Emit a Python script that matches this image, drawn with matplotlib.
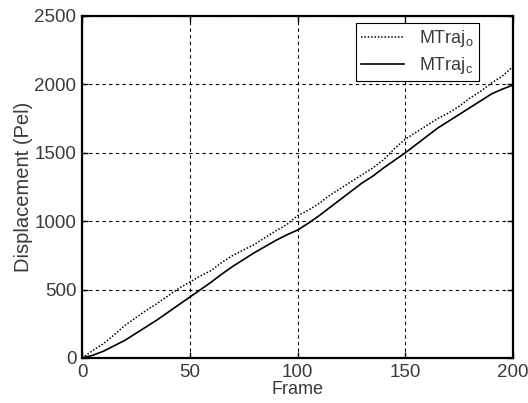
import matplotlib
matplotlib.use("Agg")
import matplotlib.pyplot as plt

plt.rcParams['font.family'] = ['Liberation Sans', 'DejaVu Sans']
plt.rcParams['mathtext.fontset'] = 'custom'
plt.rcParams['mathtext.rm'] = 'Liberation Sans'

frames = list(range(0, 201, 5))
mtraj_o = [0, 55, 105, 170, 240, 295, 350, 400, 455, 510, 555, 600, 640, 700, 750,
           790, 830, 880, 930, 975, 1040, 1080, 1130, 1190, 1240, 1290, 1340, 1390,
           1450, 1530, 1600, 1650, 1700, 1750, 1790, 1840, 1900, 1950, 2010, 2060, 2130]
mtraj_c = [0, 20, 50, 90, 130, 180, 230, 280, 335, 390, 445, 500, 555, 615, 670,
           720, 770, 815, 860, 900, 935, 985, 1040, 1100, 1160, 1220, 1280, 1330,
           1390, 1445, 1500, 1560, 1620, 1680, 1730, 1780, 1830, 1880, 1930, 1965, 1995]
xticks = [0, 50, 100, 150, 200]
yticks = [0, 500, 1000, 1500, 2000, 2500]

txt = '#3a3a3a'
fig = plt.figure(figsize=(5.28, 4.03), dpi=100)
ax = fig.add_axes([82/528, 1-358/403, (513-82)/528, (358-16)/403])

ax.plot(frames, mtraj_o, color='black', linestyle=(0, (1, 1.2)), linewidth=1.1,
        label=r'MTraj$_\mathrm{o}$')
ax.plot(frames, mtraj_c, color='black', linestyle='-', linewidth=1.2,
        label=r'MTraj$_\mathrm{c}$')

ax.set_xlim(0, 200)
ax.set_ylim(0, 2500)
ax.set_xticks(xticks)
ax.set_yticks(yticks)
ax.grid(True, color='black', linestyle=(0, (3, 3)), linewidth=0.8)
ax.tick_params(direction='in', top=True, right=True, labelsize=13.5, length=4,
               width=1, colors='black', labelcolor=txt, pad=4)
for s in ax.spines.values():
    s.set_linewidth(1.6)
ax.set_xlabel('Frame', fontsize=13, labelpad=0, color=txt)
ax.set_ylabel('Displacement (Pel)', fontsize=14.5, labelpad=1, color=txt)

leg = ax.legend(loc='upper right', fontsize=13,
                frameon=True, fancybox=False, edgecolor='black', framealpha=1,
                handlelength=2.4, borderpad=0.3, labelspacing=0.3, handletextpad=0.8,
                borderaxespad=0,
                bbox_to_anchor=(479/528, 1-23/403), bbox_transform=fig.transFigure)
leg.get_frame().set_linewidth(0.8)
for t in leg.get_texts():
    t.set_color(txt)

fig.savefig('out.png', dpi=100)
